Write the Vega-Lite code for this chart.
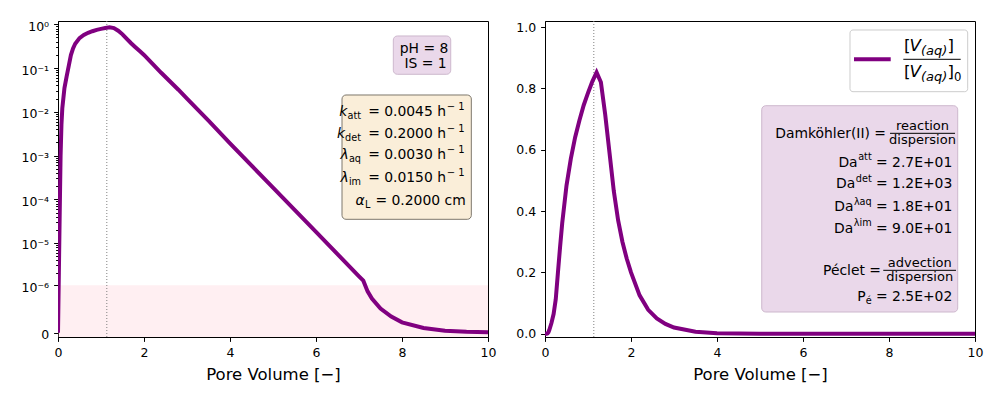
{
  "$schema": "https://vega.github.io/schema/vega-lite/v6.json",
  "background": "white",
  "padding": {"left": 20, "top": 19, "right": 5, "bottom": 5},
  "spacing": 57,
  "bounds": "flush",
  "config": {
    "font": "DejaVu Sans",
    "view": {"stroke": "black", "strokeWidth": 1},
    "axis": {"labelFont": "DejaVu Sans", "labelFontSize": 12.5, "labelColor": "black", "tickColor": "black", "domainColor": "black", "tickSize": 4.4, "labelPadding": 5, "grid": false, "titleFont": "DejaVu Sans", "titleFontSize": 16.5, "titleFontWeight": "normal", "titleColor": "black", "labelFlush": false, "labelOverlap": false},
    "text": {"font": "DejaVu Sans", "color": "black", "baseline": "alphabetic"}
  },
  "datasets": {
    "curve": [
      {"pv": 0, "c": 0}, {"pv": 0.02, "c": 2e-6}, {"pv": 0.04, "c": 5e-5}, {"pv": 0.06, "c": 1e-3}, {"pv": 0.08, "c": 5e-3},
      {"pv": 0.1, "c": 0.012}, {"pv": 0.15, "c": 0.035}, {"pv": 0.2, "c": 0.064}, {"pv": 0.25, "c": 0.112}, {"pv": 0.3, "c": 0.198},
      {"pv": 0.35, "c": 0.282}, {"pv": 0.4, "c": 0.36}, {"pv": 0.5, "c": 0.483}, {"pv": 0.6, "c": 0.57}, {"pv": 0.7, "c": 0.64},
      {"pv": 0.8, "c": 0.695}, {"pv": 0.9, "c": 0.745}, {"pv": 1.0, "c": 0.785}, {"pv": 1.1, "c": 0.822}, {"pv": 1.2, "c": 0.852},
      {"pv": 1.3, "c": 0.82}, {"pv": 1.4, "c": 0.715}, {"pv": 1.5, "c": 0.59}, {"pv": 1.6, "c": 0.465}, {"pv": 1.7, "c": 0.37},
      {"pv": 1.8, "c": 0.3}, {"pv": 1.9, "c": 0.245}, {"pv": 2.0, "c": 0.2}, {"pv": 2.2, "c": 0.125}, {"pv": 2.4, "c": 0.078},
      {"pv": 2.6, "c": 0.05}, {"pv": 2.8, "c": 0.032}, {"pv": 3.0, "c": 0.02}, {"pv": 3.5, "c": 0.0063}, {"pv": 4.0, "c": 0.0019},
      {"pv": 5.0, "c": 1.85e-4}, {"pv": 6.0, "c": 1.8e-5}, {"pv": 7.0, "c": 1.65e-6}, {"pv": 7.1, "c": 1.3e-6}, {"pv": 7.2, "c": 7e-7},
      {"pv": 7.3, "c": 4.5e-7}, {"pv": 7.5, "c": 2.3e-7}, {"pv": 7.75, "c": 1.2e-7}, {"pv": 8.0, "c": 6.5e-8}, {"pv": 8.5, "c": 2.5e-8},
      {"pv": 9.0, "c": 1e-8}, {"pv": 9.5, "c": 4e-9}, {"pv": 10, "c": 2e-9}
    ]
  },
  "hconcat": [
    {
      "width": 430, "height": 316,
      "resolve": {"axis": {"y": "independent"}},
      "layer": [
        {"data": {"values": [{}]}, "mark": {"type": "rect", "color": "pink", "opacity": 0.25, "clip": true},
         "encoding": {"x": {"datum": 0}, "x2": {"datum": 10},
           "y": {"datum": -1e-6, "axis": {"orient": "left", "title": null, "labels": false, "domain": false, "tickSize": 2.4,
             "values": [2e-6, 3e-6, 4e-6, 5e-6, 6e-6, 7e-6, 8e-6, 9e-6, 2e-5, 3e-5, 4e-5, 5e-5, 6e-5, 7e-5, 8e-5, 9e-5, 2e-4, 3e-4, 4e-4, 5e-4, 6e-4, 7e-4, 8e-4, 9e-4, 0.002, 0.003, 0.004, 0.005, 0.006, 0.007, 0.008, 0.009, 0.02, 0.03, 0.04, 0.05, 0.06, 0.07, 0.08, 0.09, 0.2, 0.3, 0.4, 0.5, 0.6, 0.7, 0.8, 0.9]}},
           "y2": {"datum": 1e-6}}},
        {"data": {"values": [{}]}, "mark": {"type": "rule", "color": "#808080", "strokeDash": [1, 2], "strokeWidth": 1},
         "encoding": {"x": {"datum": 1.135}}},
        {"data": {"name": "curve"}, "mark": {"type": "line", "color": "#800080", "strokeWidth": 4, "clip": true},
         "encoding": {
           "x": {"field": "pv", "type": "quantitative", "scale": {"domain": [0, 10], "nice": false, "zero": false},
                 "axis": {"values": [0, 2, 4, 6, 8, 10], "format": "d", "title": "Pore Volume [−]", "titlePadding": 7.5}},
           "y": {"field": "c", "type": "quantitative",
                 "scale": {"type": "symlog", "constant": 9e-8, "domain": [-2.3e-8, 1.19], "nice": false, "zero": false},
                 "axis": {"orient": "left", "title": null, "labelOffset": 2,
                   "values": [0, 0.000001, 0.00001, 0.0001, 0.001, 0.01, 0.1, 1],
                   "labelExpr": "datum.value == 0 ? '0' : datum.value == 1 ? '10⁰' : datum.value == 0.1 ? '10⁻¹' : datum.value == 0.01 ? '10⁻²' : datum.value == 0.001 ? '10⁻³' : datum.value == 0.0001 ? '10⁻⁴' : datum.value == 0.00001 ? '10⁻⁵' : '10⁻⁶'"}}
         }},
        {"data": {"values": [{}]}, "mark": {"type": "rect", "fill": "#ead8ea", "stroke": "#cdb8cd", "strokeWidth": 1, "cornerRadius": 4},
         "encoding": {"x": {"datum": 7.798}, "x2": {"datum": 9.133}, "y": {"datum": 0.541, "axis": null}, "y2": {"datum": 0.0721}}},
        {"data": {"values": [{}]}, "mark": {"type": "text", "text": "pH = 8", "align": "right", "fontSize": 13.9, "dx": -2.4, "dy": 17},
         "encoding": {"x": {"datum": 9.133}, "y": {"datum": 0.541, "axis": null}}},
        {"data": {"values": [{}]}, "mark": {"type": "text", "text": "IS = 1", "align": "right", "fontSize": 13.9, "dx": -4, "dy": 32},
         "encoding": {"x": {"datum": 9.133}, "y": {"datum": 0.541, "axis": null}}},
        {"data": {"values": [{}]}, "mark": {"type": "rect", "fill": "#faeed9", "stroke": "#7d776c", "strokeWidth": 1, "cornerRadius": 4},
         "encoding": {"x": {"datum": 6.605}, "x2": {"datum": 9.612}, "y": {"datum": 0.02427, "axis": null}, "y2": {"datum": 3.496e-5}}},
        {"data": {"values": [{}]}, "mark": {"type": "text", "text": "k", "fontStyle": "italic", "align": "right", "fontSize": 13.9, "dx": -124, "dy": 21}, "encoding": {"x": {"datum": 9.612}, "y": {"datum": 0.02427, "axis": null}}},
        {"data": {"values": [{}]}, "mark": {"type": "text", "text": "att", "align": "right", "fontSize": 9.7, "dx": -110.3, "dy": 24}, "encoding": {"x": {"datum": 9.612}, "y": {"datum": 0.02427, "axis": null}}},
        {"data": {"values": [{}]}, "mark": {"type": "text", "text": "= 0.0045 h", "align": "right", "fontSize": 13.9, "dx": -25.3, "dy": 21}, "encoding": {"x": {"datum": 9.612}, "y": {"datum": 0.02427, "axis": null}}},
        {"data": {"values": [{}]}, "mark": {"type": "text", "text": "− 1", "align": "left", "fontSize": 10, "dx": -24.5, "dy": 15.5}, "encoding": {"x": {"datum": 9.612}, "y": {"datum": 0.02427, "axis": null}}},
        {"data": {"values": [{}]}, "mark": {"type": "text", "text": "k", "fontStyle": "italic", "align": "right", "fontSize": 13.9, "dx": -126.3, "dy": 42.7}, "encoding": {"x": {"datum": 9.612}, "y": {"datum": 0.02427, "axis": null}}},
        {"data": {"values": [{}]}, "mark": {"type": "text", "text": "det", "align": "right", "fontSize": 9.7, "dx": -110.3, "dy": 45.7}, "encoding": {"x": {"datum": 9.612}, "y": {"datum": 0.02427, "axis": null}}},
        {"data": {"values": [{}]}, "mark": {"type": "text", "text": "= 0.2000 h", "align": "right", "fontSize": 13.9, "dx": -25.3, "dy": 42.7}, "encoding": {"x": {"datum": 9.612}, "y": {"datum": 0.02427, "axis": null}}},
        {"data": {"values": [{}]}, "mark": {"type": "text", "text": "− 1", "align": "left", "fontSize": 10, "dx": -24.5, "dy": 37.2}, "encoding": {"x": {"datum": 9.612}, "y": {"datum": 0.02427, "axis": null}}},
        {"data": {"values": [{}]}, "mark": {"type": "text", "text": "λ", "fontStyle": "italic", "align": "right", "fontSize": 13.9, "dx": -122.5, "dy": 64}, "encoding": {"x": {"datum": 9.612}, "y": {"datum": 0.02427, "axis": null}}},
        {"data": {"values": [{}]}, "mark": {"type": "text", "text": "aq", "align": "right", "fontSize": 9.7, "dx": -110.3, "dy": 67}, "encoding": {"x": {"datum": 9.612}, "y": {"datum": 0.02427, "axis": null}}},
        {"data": {"values": [{}]}, "mark": {"type": "text", "text": "= 0.0030 h", "align": "right", "fontSize": 13.9, "dx": -25.3, "dy": 64}, "encoding": {"x": {"datum": 9.612}, "y": {"datum": 0.02427, "axis": null}}},
        {"data": {"values": [{}]}, "mark": {"type": "text", "text": "− 1", "align": "left", "fontSize": 10, "dx": -24.5, "dy": 58.5}, "encoding": {"x": {"datum": 9.612}, "y": {"datum": 0.02427, "axis": null}}},
        {"data": {"values": [{}]}, "mark": {"type": "text", "text": "λ", "fontStyle": "italic", "align": "right", "fontSize": 13.9, "dx": -122.5, "dy": 87}, "encoding": {"x": {"datum": 9.612}, "y": {"datum": 0.02427, "axis": null}}},
        {"data": {"values": [{}]}, "mark": {"type": "text", "text": "im", "align": "right", "fontSize": 9.7, "dx": -110.3, "dy": 90}, "encoding": {"x": {"datum": 9.612}, "y": {"datum": 0.02427, "axis": null}}},
        {"data": {"values": [{}]}, "mark": {"type": "text", "text": "= 0.0150 h", "align": "right", "fontSize": 13.9, "dx": -25.3, "dy": 87}, "encoding": {"x": {"datum": 9.612}, "y": {"datum": 0.02427, "axis": null}}},
        {"data": {"values": [{}]}, "mark": {"type": "text", "text": "− 1", "align": "left", "fontSize": 10, "dx": -24.5, "dy": 81.5}, "encoding": {"x": {"datum": 9.612}, "y": {"datum": 0.02427, "axis": null}}},
        {"data": {"values": [{}]}, "mark": {"type": "text", "text": "α", "fontStyle": "italic", "align": "right", "fontSize": 13.9, "dx": -106.7, "dy": 110}, "encoding": {"x": {"datum": 9.612}, "y": {"datum": 0.02427, "axis": null}}},
        {"data": {"values": [{}]}, "mark": {"type": "text", "text": "L", "align": "right", "fontSize": 9.7, "dx": -101, "dy": 113}, "encoding": {"x": {"datum": 9.612}, "y": {"datum": 0.02427, "axis": null}}},
        {"data": {"values": [{}]}, "mark": {"type": "text", "text": "= 0.2000 cm", "align": "right", "fontSize": 13.9, "dx": -5.6, "dy": 110}, "encoding": {"x": {"datum": 9.612}, "y": {"datum": 0.02427, "axis": null}}}
      ]
    },
    {
      "width": 430, "height": 316,
      "layer": [
        {"data": {"values": [{}]}, "mark": {"type": "rule", "color": "#808080", "strokeDash": [1, 2], "strokeWidth": 1},
         "encoding": {"x": {"datum": 1.135}}},
        {"data": {"name": "curve"}, "mark": {"type": "line", "color": "#800080", "strokeWidth": 4, "clip": true},
         "encoding": {
           "x": {"field": "pv", "type": "quantitative", "scale": {"domain": [0, 10], "nice": false, "zero": false},
                 "axis": {"values": [0, 2, 4, 6, 8, 10], "format": "d", "title": "Pore Volume [−]", "titlePadding": 7.5}},
           "y": {"field": "c", "type": "quantitative", "scale": {"domain": [-0.0107, 1.0196], "nice": false, "zero": false},
                 "axis": {"title": null, "values": [0, 0.2, 0.4, 0.6, 0.8, 1.0], "format": ".1f"}}
         }},
        {"data": {"values": [{}]}, "mark": {"type": "rect", "fill": "white", "stroke": "#cccccc", "strokeWidth": 1, "cornerRadius": 3},
         "encoding": {"x": {"datum": 7.093}, "x2": {"datum": 9.83}, "y": {"datum": 0.9903}, "y2": {"datum": 0.7891}}},
        {"data": {"values": [{}]}, "mark": {"type": "rule", "color": "#800080", "strokeWidth": 4},
         "encoding": {"x": {"datum": 7.186}, "x2": {"datum": 8.04}, "y": {"datum": 0.8947}}},
        {"data": {"values": [{}]}, "mark": {"type": "rule", "color": "black", "strokeWidth": 1},
         "encoding": {"x": {"datum": 8.333}, "x2": {"datum": 9.667}, "y": {"datum": 0.8947}}},
        {"data": {"values": [{}]}, "mark": {"type": "text", "text": "[", "align": "left", "fontSize": 16.7, "dx": 54, "dy": 21}, "encoding": {"x": {"datum": 7.093}, "y": {"datum": 0.9903}}},
        {"data": {"values": [{}]}, "mark": {"type": "text", "text": "V", "fontStyle": "italic", "align": "left", "fontSize": 16.7, "dx": 59.5, "dy": 21}, "encoding": {"x": {"datum": 7.093}, "y": {"datum": 0.9903}}},
        {"data": {"values": [{}]}, "mark": {"type": "text", "text": "(aq)", "fontStyle": "italic", "align": "left", "fontSize": 13, "dx": 71, "dy": 25}, "encoding": {"x": {"datum": 7.093}, "y": {"datum": 0.9903}}},
        {"data": {"values": [{}]}, "mark": {"type": "text", "text": "]", "align": "left", "fontSize": 16.7, "dx": 97.5, "dy": 21}, "encoding": {"x": {"datum": 7.093}, "y": {"datum": 0.9903}}},
        {"data": {"values": [{}]}, "mark": {"type": "text", "text": "[", "align": "left", "fontSize": 16.7, "dx": 54, "dy": 47}, "encoding": {"x": {"datum": 7.093}, "y": {"datum": 0.9903}}},
        {"data": {"values": [{}]}, "mark": {"type": "text", "text": "V", "fontStyle": "italic", "align": "left", "fontSize": 16.7, "dx": 59.5, "dy": 47}, "encoding": {"x": {"datum": 7.093}, "y": {"datum": 0.9903}}},
        {"data": {"values": [{}]}, "mark": {"type": "text", "text": "(aq)", "fontStyle": "italic", "align": "left", "fontSize": 13, "dx": 71, "dy": 51}, "encoding": {"x": {"datum": 7.093}, "y": {"datum": 0.9903}}},
        {"data": {"values": [{}]}, "mark": {"type": "text", "text": "]", "align": "left", "fontSize": 16.7, "dx": 97.5, "dy": 47}, "encoding": {"x": {"datum": 7.093}, "y": {"datum": 0.9903}}},
        {"data": {"values": [{}]}, "mark": {"type": "text", "text": "0", "align": "left", "fontSize": 11.7, "dx": 104, "dy": 51}, "encoding": {"x": {"datum": 7.093}, "y": {"datum": 0.9903}}},
        {"data": {"values": [{}]}, "mark": {"type": "rect", "fill": "#ead8ea", "stroke": "#cdb8cd", "strokeWidth": 1, "cornerRadius": 4},
         "encoding": {"x": {"datum": 5.04}, "x2": {"datum": 9.598}, "y": {"datum": 0.7434}, "y2": {"datum": 0.0708}}},
        {"data": {"values": [{}]}, "mark": {"type": "text", "text": "Damköhler(II) =", "align": "right", "fontSize": 13.9, "dx": -71.7, "dy": 32}, "encoding": {"x": {"datum": 9.598}, "y": {"datum": 0.7434}}},
        {"data": {"values": [{}]}, "mark": {"type": "text", "text": "reaction", "align": "center", "fontSize": 13, "dx": -35.2, "dy": 24.6}, "encoding": {"x": {"datum": 9.598}, "y": {"datum": 0.7434}}},
        {"data": {"values": [{}]}, "mark": {"type": "rule", "color": "black", "strokeWidth": 1},
         "encoding": {"x": {"datum": 8.023}, "x2": {"datum": 9.535}, "y": {"datum": 0.6534}}},
        {"data": {"values": [{}]}, "mark": {"type": "text", "text": "dispersion", "align": "center", "fontSize": 13, "dx": -35.2, "dy": 38.6}, "encoding": {"x": {"datum": 9.598}, "y": {"datum": 0.7434}}},
        {"data": {"values": [{}]}, "mark": {"type": "text", "text": "Da", "align": "right", "fontSize": 13.9, "dx": -100.1, "dy": 61}, "encoding": {"x": {"datum": 9.598}, "y": {"datum": 0.7434}}},
        {"data": {"values": [{}]}, "mark": {"type": "text", "text": "att", "align": "right", "fontSize": 9.7, "dx": -86, "dy": 54.5}, "encoding": {"x": {"datum": 9.598}, "y": {"datum": 0.7434}}},
        {"data": {"values": [{}]}, "mark": {"type": "text", "text": "= 2.7E+01", "align": "right", "fontSize": 13.9, "dx": -5.4, "dy": 61}, "encoding": {"x": {"datum": 9.598}, "y": {"datum": 0.7434}}},
        {"data": {"values": [{}]}, "mark": {"type": "text", "text": "Da", "align": "right", "fontSize": 13.9, "dx": -102.4, "dy": 82.6}, "encoding": {"x": {"datum": 9.598}, "y": {"datum": 0.7434}}},
        {"data": {"values": [{}]}, "mark": {"type": "text", "text": "det", "align": "right", "fontSize": 9.7, "dx": -86, "dy": 76.1}, "encoding": {"x": {"datum": 9.598}, "y": {"datum": 0.7434}}},
        {"data": {"values": [{}]}, "mark": {"type": "text", "text": "= 1.2E+03", "align": "right", "fontSize": 13.9, "dx": -5.4, "dy": 82.6}, "encoding": {"x": {"datum": 9.598}, "y": {"datum": 0.7434}}},
        {"data": {"values": [{}]}, "mark": {"type": "text", "text": "Da", "align": "right", "fontSize": 13.9, "dx": -104.3, "dy": 105.3}, "encoding": {"x": {"datum": 9.598}, "y": {"datum": 0.7434}}},
        {"data": {"values": [{}]}, "mark": {"type": "text", "text": "λaq", "align": "right", "fontSize": 9.7, "dx": -86, "dy": 98.8}, "encoding": {"x": {"datum": 9.598}, "y": {"datum": 0.7434}}},
        {"data": {"values": [{}]}, "mark": {"type": "text", "text": "= 1.8E+01", "align": "right", "fontSize": 13.9, "dx": -5.4, "dy": 105.3}, "encoding": {"x": {"datum": 9.598}, "y": {"datum": 0.7434}}},
        {"data": {"values": [{}]}, "mark": {"type": "text", "text": "Da", "align": "right", "fontSize": 13.9, "dx": -104.4, "dy": 127}, "encoding": {"x": {"datum": 9.598}, "y": {"datum": 0.7434}}},
        {"data": {"values": [{}]}, "mark": {"type": "text", "text": "λim", "align": "right", "fontSize": 9.7, "dx": -86, "dy": 120.5}, "encoding": {"x": {"datum": 9.598}, "y": {"datum": 0.7434}}},
        {"data": {"values": [{}]}, "mark": {"type": "text", "text": "= 9.0E+01", "align": "right", "fontSize": 13.9, "dx": -5.4, "dy": 127}, "encoding": {"x": {"datum": 9.598}, "y": {"datum": 0.7434}}},
        {"data": {"values": [{}]}, "mark": {"type": "text", "text": "Péclet =", "align": "right", "fontSize": 13.9, "dx": -76.7, "dy": 168.8}, "encoding": {"x": {"datum": 9.598}, "y": {"datum": 0.7434}}},
        {"data": {"values": [{}]}, "mark": {"type": "text", "text": "advection", "align": "center", "fontSize": 13, "dx": -38, "dy": 161}, "encoding": {"x": {"datum": 9.598}, "y": {"datum": 0.7434}}},
        {"data": {"values": [{}]}, "mark": {"type": "rule", "color": "black", "strokeWidth": 1},
         "encoding": {"x": {"datum": 7.867}, "x2": {"datum": 9.558}, "y": {"datum": 0.2067}}},
        {"data": {"values": [{}]}, "mark": {"type": "text", "text": "dispersion", "align": "center", "fontSize": 13, "dx": -38, "dy": 175.3}, "encoding": {"x": {"datum": 9.598}, "y": {"datum": 0.7434}}},
        {"data": {"values": [{}]}, "mark": {"type": "text", "text": "P", "align": "right", "fontSize": 13.9, "dx": -92, "dy": 195.3}, "encoding": {"x": {"datum": 9.598}, "y": {"datum": 0.7434}}},
        {"data": {"values": [{}]}, "mark": {"type": "text", "text": "é", "align": "right", "fontSize": 9.7, "dx": -86, "dy": 198.3}, "encoding": {"x": {"datum": 9.598}, "y": {"datum": 0.7434}}},
        {"data": {"values": [{}]}, "mark": {"type": "text", "text": "= 2.5E+02", "align": "right", "fontSize": 13.9, "dx": -5.4, "dy": 195.3}, "encoding": {"x": {"datum": 9.598}, "y": {"datum": 0.7434}}}
      ]
    }
  ]
}
